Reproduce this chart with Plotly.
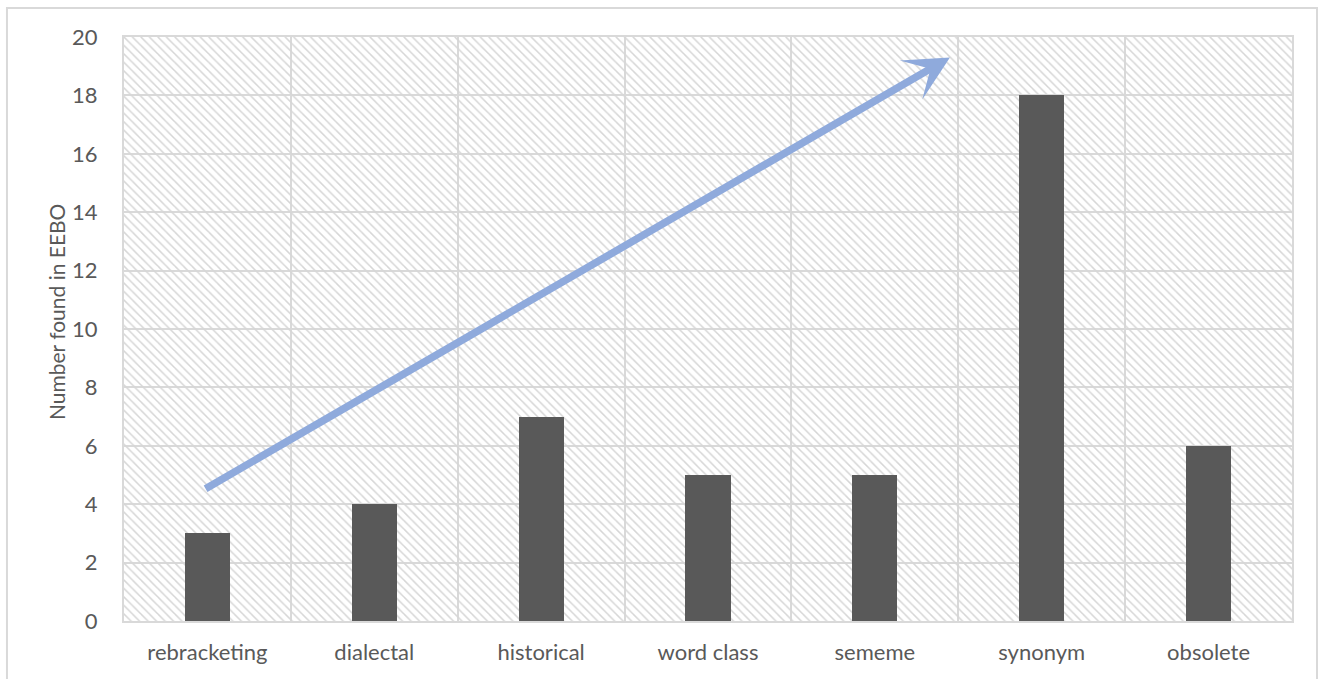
import plotly.graph_objects as go

categories = ["rebracketing", "dialectal", "historical", "word class", "sememe", "synonym", "obsolete"]
values = [3, 4, 7, 5, 5, 18, 6]
y_max = 20
y_ticks = list(range(0, 21, 2))
y_title = "Number found in EEBO"

# arrow annotation endpoints (category index, value)
arrow_start = (-0.02, 4.5)
arrow_end = (4.45, 19.3)

FONT = "Lato"
TXT = "#595959"
GRID = "#D9D9D9"

fig = go.Figure()
# hatched plot background drawn as full-height bars
fig.add_trace(go.Bar(
    x=categories, y=[y_max] * len(categories), width=1,
    marker=dict(color="rgba(0,0,0,0)", line=dict(width=0),
                pattern=dict(shape="\\", fgcolor="#D6D6D6", size=6, solidity=0.25, fillmode="replace")),
    hoverinfo="skip", showlegend=False,
))
fig.add_trace(go.Bar(
    x=categories, y=values, width=0.27,
    marker=dict(color="#595959", line=dict(width=0)),
    showlegend=False,
))

fig.add_annotation(
    x=arrow_end[0], y=arrow_end[1], ax=arrow_start[0], ay=arrow_start[1],
    xref="x", yref="y", axref="x", ayref="y",
    text="", showarrow=True, arrowhead=3, arrowsize=1.0, arrowwidth=7.5,
    arrowcolor="#8FAADC",
)

# y-axis title as rotated annotation
fig.add_annotation(
    x=-0.0582, y=0.529, xref="paper", yref="paper", text=y_title, textangle=-90,
    showarrow=False, font=dict(family=FONT, color=TXT, size=21),
    xanchor="center", yanchor="middle",
)

# outer chart border
fig.add_shape(type="rect", xref="paper", yref="paper",
              x0=-0.1002, x1=1.0214, y0=-0.2, y1=1.0497,
              line=dict(color=GRID, width=2), fillcolor="rgba(0,0,0,0)", layer="above")

fig.update_layout(
    width=1323, height=679,
    margin=dict(l=124, r=31, t=37, b=58),
    paper_bgcolor="white", plot_bgcolor="white",
    barmode="overlay", bargap=0,
    font=dict(family=FONT, color=TXT, size=22),
    xaxis=dict(
        type="category", tickson="boundaries", showgrid=True, gridcolor=GRID, gridwidth=2,
        showline=True, linecolor=GRID, linewidth=2, mirror=True,
        ticks="", ticklabelstandoff=11,
        tickfont=dict(family=FONT, color=TXT, size=22), range=[-0.5, 6.5],
    ),
    yaxis=dict(
        range=[0, y_max], tickvals=y_ticks, showgrid=True, gridcolor=GRID, gridwidth=2,
        showline=True, linecolor=GRID, linewidth=2, mirror=True, zeroline=False,
        ticks="outside", ticklen=20, tickcolor="rgba(0,0,0,0)",
        tickfont=dict(family=FONT, color=TXT, size=22),
    ),
)

fig.write_html("out.html")
